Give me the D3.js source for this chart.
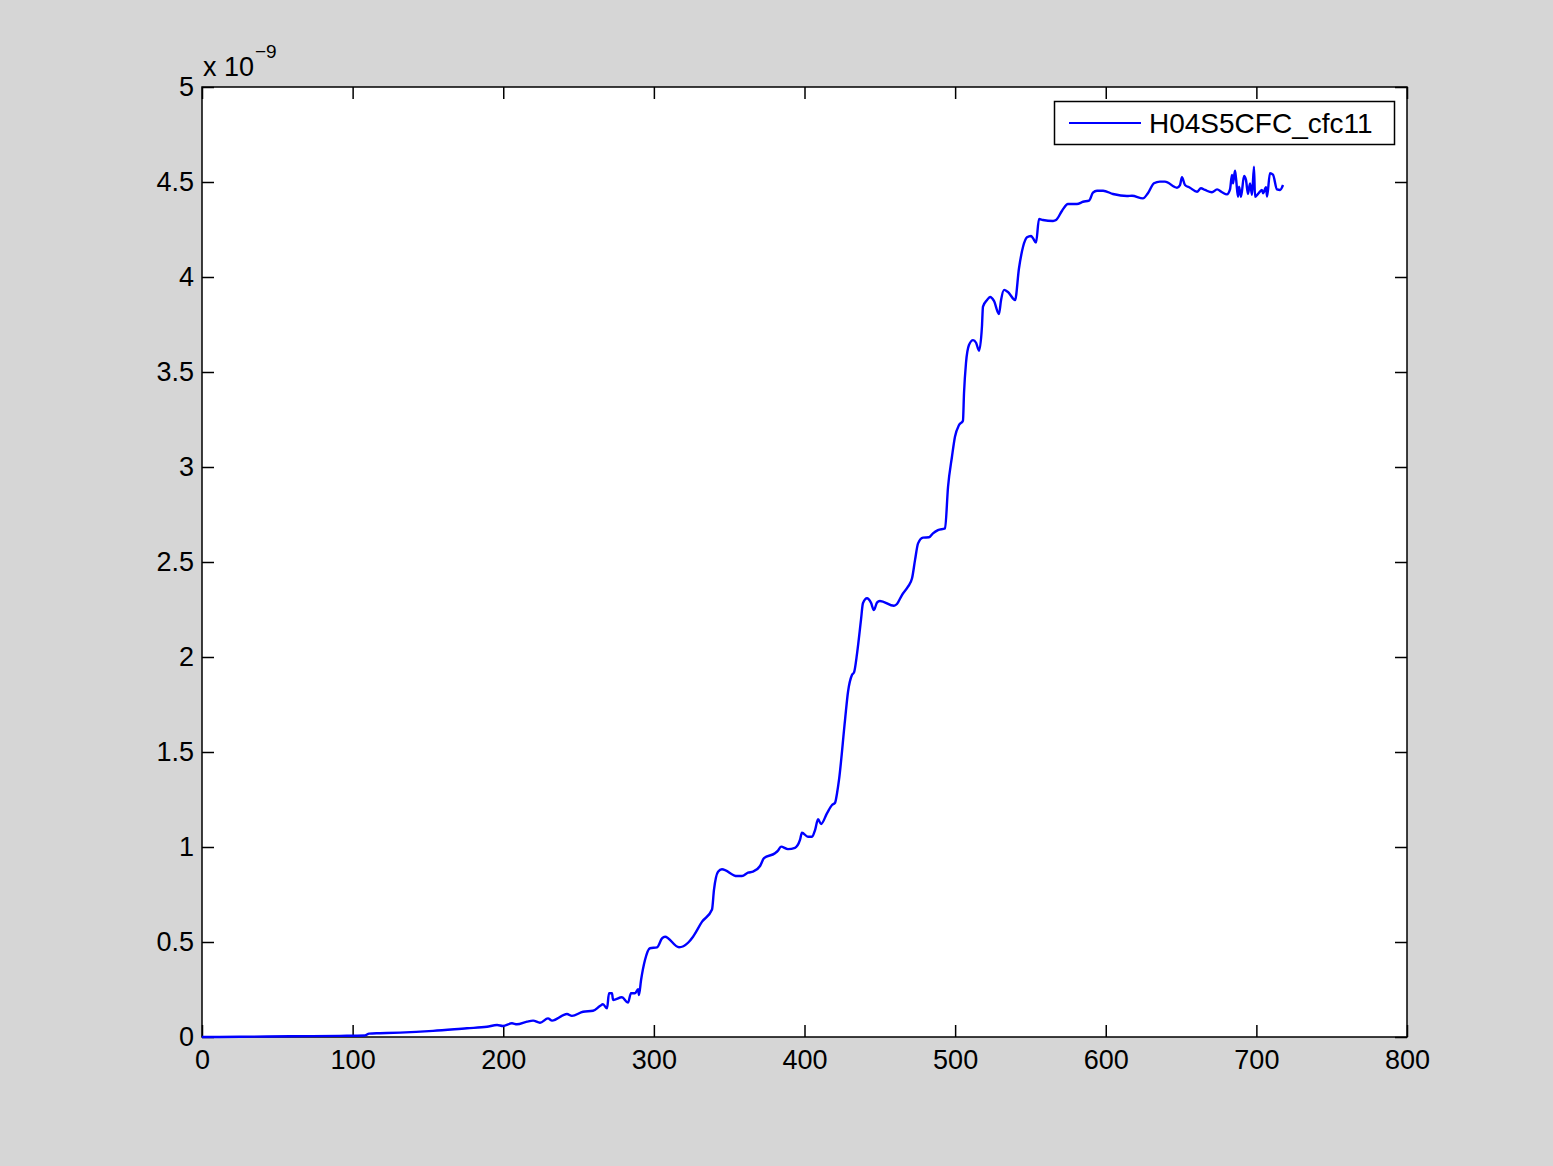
<!DOCTYPE html>
<html><head><meta charset="utf-8">
<script src="https://cdn.jsdelivr.net/npm/d3@7"></script>
<style>body{margin:0;background:#d6d6d6;}svg{display:block;}</style>
</head><body>
<script>
const seriesName = "H04S5CFC_cfc11";
const xTicks = [0,100,200,300,400,500,600,700,800];
const yTicks = [0,0.5,1,1.5,2,2.5,3,3.5,4,4.5,5];
const yTickLabels = ["0","0.5","1","1.5","2","2.5","3","3.5","4","4.5","5"];
// x values (time index) and y values (in units of 1e-9)
const xs = [0,25.2,58.4,91.6,108.2,110.9,118.2,131.5,153.4,175.9,189.2,195.9,199.8,205.8,209.1,215.8,219.8,224.4,229.7,232.4,242.3,245.6,253.0,259.6,264.2,266.2,268.9,270.2,272.2,272.9,278.8,282.8,284.8,287.5,289.5,290.1,291.5,294.1,297.4,302.1,305.4,307.4,316.7,322.7,326.0,332.0,338.6,339.9,342.6,345.2,355.2,358.5,362.5,365.8,370.5,373.1,380.4,382.4,384.4,389.0,393.7,397.0,398.3,402.3,405.0,407.0,409.0,411.0,414.9,418.3,420.3,421.6,422.9,426.9,428.9,431.5,432.9,434.9,437.5,438.8,441.5,444.1,446.1,448.1,450.1,459.4,461.4,464.7,468.7,471.4,473.4,475.4,478.7,482.7,485.3,488.6,493.3,495.3,497.9,499.9,502.6,505.2,505.9,507.2,509.2,511.9,513.9,515.9,517.8,518.5,521.2,523.2,525.8,529.1,530.5,532.5,535.1,539.8,542.4,545.1,547.7,550.4,551.7,553.7,555.7,558.3,565.0,567.0,571.0,574.9,580.9,584.9,588.9,591.5,594.2,598.2,604.8,614.1,617.4,624.7,628.0,632.0,636.0,639.3,647.3,649.3,650.6,652.6,655.9,660.6,663.2,665.9,670.5,673.9,677.2,680.5,682.5,683.8,684.5,685.8,686.5,687.8,688.5,689.8,691.8,693.1,694.4,695.8,697.1,698.4,699.1,701.1,703.7,704.4,706.4,707.1,709.0,711.0,713.7,715.7,717.7];
const ys = [0,0.001,0.004,0.006,0.008,0.018,0.020,0.023,0.032,0.046,0.054,0.063,0.058,0.072,0.067,0.081,0.086,0.075,0.098,0.086,0.121,0.111,0.133,0.138,0.163,0.172,0.151,0.230,0.230,0.195,0.209,0.181,0.230,0.230,0.251,0.221,0.300,0.405,0.467,0.472,0.519,0.528,0.472,0.496,0.528,0.607,0.671,0.774,0.870,0.883,0.847,0.847,0.865,0.870,0.900,0.941,0.967,0.981,1.002,0.989,0.996,1.037,1.075,1.054,1.054,1.089,1.146,1.121,1.177,1.221,1.233,1.283,1.353,1.668,1.817,1.905,1.919,2.019,2.195,2.283,2.309,2.286,2.247,2.286,2.295,2.270,2.279,2.326,2.370,2.414,2.511,2.598,2.628,2.630,2.651,2.668,2.677,2.896,3.054,3.159,3.221,3.244,3.388,3.546,3.642,3.668,3.654,3.612,3.738,3.844,3.879,3.895,3.874,3.805,3.879,3.932,3.921,3.879,4.046,4.159,4.209,4.216,4.204,4.181,4.305,4.300,4.295,4.300,4.349,4.384,4.384,4.396,4.402,4.444,4.454,4.454,4.437,4.426,4.428,4.414,4.441,4.493,4.502,4.502,4.470,4.484,4.525,4.484,4.470,4.449,4.467,4.458,4.446,4.461,4.446,4.435,4.461,4.537,4.493,4.559,4.519,4.422,4.475,4.422,4.532,4.511,4.437,4.493,4.432,4.581,4.422,4.437,4.458,4.441,4.472,4.423,4.546,4.539,4.461,4.458,4.484];

const W = 1553, H = 1166;
const L = 202, R = 1407, T = 87, B = 1037;
const font = "'Liberation Sans', Arial, Helvetica, sans-serif";
const fs = "27px";

const svg = d3.select("body").append("svg").attr("width", W).attr("height", H)
  .style("font-family", font);
svg.append("rect").attr("width", W).attr("height", H).attr("fill", "#d6d6d6");
svg.append("rect").attr("x", L).attr("y", T).attr("width", R - L).attr("height", B - T).attr("fill", "#fff");

const x = d3.scaleLinear().domain([0, 800]).range([L, R]);
const y = d3.scaleLinear().domain([0, 5]).range([B, T]);

const tl = 12;
const styleAxis = g => {
  g.select(".domain").remove();
  g.selectAll(".tick line").attr("stroke", "#000").attr("stroke-width", 1.5);
  g.selectAll(".tick text").attr("fill", "#000").style("font-size", fs).style("font-family", font);
};
svg.append("g").attr("transform", `translate(0,${B})`)
  .call(d3.axisBottom(x).tickValues(xTicks).tickSize(-tl).tickFormat(d3.format("d")))
  .call(styleAxis).call(g => g.selectAll(".tick text").attr("dy", "0.71em").attr("y", 13));
svg.append("g").attr("transform", `translate(0,${T})`)
  .call(d3.axisTop(x).tickValues(xTicks).tickSize(-tl).tickFormat(""))
  .call(styleAxis);
svg.append("g").attr("transform", `translate(${L},0)`)
  .call(d3.axisLeft(y).tickValues(yTicks).tickSize(-tl).tickFormat((d, i) => yTickLabels[i]))
  .call(styleAxis).call(g => g.selectAll(".tick text").attr("x", -8));
svg.append("g").attr("transform", `translate(${R},0)`)
  .call(d3.axisRight(y).tickValues(yTicks).tickSize(-tl).tickFormat(""))
  .call(styleAxis);

svg.append("rect").attr("x", L).attr("y", T).attr("width", R - L).attr("height", B - T)
  .attr("fill", "none").attr("stroke", "#000").attr("stroke-width", 1.5);

const data = xs.map((d, i) => [d, ys[i]]);
svg.append("path").datum(data)
  .attr("fill", "none").attr("stroke", "#0000ff").attr("stroke-width", 2.4)
  .attr("stroke-linejoin", "round")
  .attr("d", d3.line().curve(d3.curveMonotoneX).x(d => x(d[0])).y(d => y(d[1])));

// exponent label
svg.append("text").attr("x", 203).attr("y", 76).attr("fill", "#000")
  .style("font-size", fs).text("x 10");
svg.append("text").attr("x", 255).attr("y", 58).attr("fill", "#000").style("font-size", "19px").text("\u22129");

// legend
const lg = svg.append("g");
lg.append("rect").attr("x", 1054.5).attr("y", 101.5).attr("width", 340).attr("height", 43)
  .attr("fill", "#fff").attr("stroke", "#000").attr("stroke-width", 1.5);
lg.append("line").attr("x1", 1069).attr("x2", 1141).attr("y1", 123).attr("y2", 123)
  .attr("stroke", "#0000ff").attr("stroke-width", 2);
lg.append("text").attr("x", 1149).attr("y", 133).attr("fill", "#000").style("font-size", "28px").text(seriesName);
</script>
</body></html>
